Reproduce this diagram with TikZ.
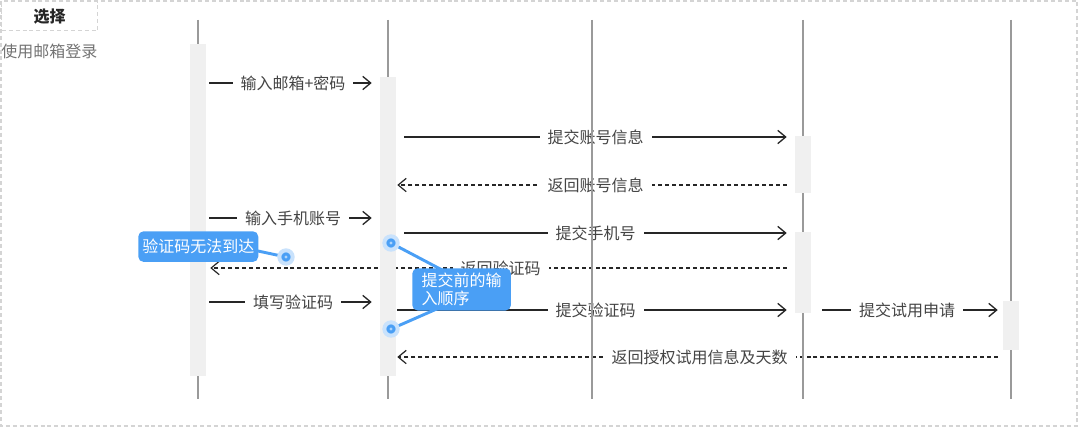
\documentclass[tikz,border=0pt]{standalone}
\usepackage{fontspec}
\newfontfamily\cjk{Noto Sans CJK SC}
\usetikzlibrary{arrows.meta,fit}

\definecolor{lifegray}{HTML}{9A9A9A}
\definecolor{barfill}{HTML}{F0F0F0}
\definecolor{framegray}{HTML}{D4D4D4}
\definecolor{msgtext}{HTML}{444444}
\definecolor{callblue}{HTML}{4A9FF5}

\pgfdeclarelayer{bg}
\pgfdeclarelayer{fg}
\pgfsetlayers{bg,main,fg}

\tikzset{
	lifeline/.style={draw=lifegray, line width=1.1pt},
	actbar/.style={fill=barfill, inner sep=0pt},
	msg/.style={draw=black!85, line width=1pt, -{Straight Barb[length=6pt,width=10pt]}},
	reply/.style={msg, line width=0.9pt, dash pattern=on 3pt off 2.2pt},
	lbl/.style={fill=white, text=msgtext, font=\cjk\fontsize{12}{14}\selectfont, inner xsep=6pt, inner ysep=1pt},
	callout/.style={fill=callblue, text=white, rounded corners=4pt, font=\cjk\fontsize{12}{13.5}\selectfont},
	pin/.style={circle, fill=callblue, draw=callblue!30, line width=3pt, minimum size=10pt, inner sep=0pt,
		path picture={\fill[white!55!callblue] (path picture bounding box.center) circle (1.2pt);}},
	pinline/.style={draw=callblue, line width=2.2pt}
}

\begin{document}
\begin{tikzpicture}[x=0.75pt, y=-0.75pt]
	\useasboundingbox (0,0) rectangle (1080,428);

	% frame
	\draw[framegray, line width=1.1pt, dash pattern=on 3pt off 2.2pt] (1,1) rectangle (1077,426);
	\node[draw=framegray, line width=1.1pt, dash pattern=on 3pt off 2.2pt, anchor=north west,
		minimum width=72pt, minimum height=21.75pt, font=\cjk\bfseries\fontsize{12}{14}\selectfont, text=black!85] (sel) at (1,1) {选择};
	\node[anchor=west, inner sep=0pt, text=black!55, font=\cjk\fontsize{12}{14}\selectfont] (mode) at (1,51) {使用邮箱登录};

	% lifelines
	\foreach \x in {198,388,592,803,1011}
	\draw[lifeline] (\x,20) -- (\x,399);

	% activation bars
	\node[actbar, fit={(190,44) (206,376)}] (b1) {};
	\node[actbar, fit={(380,77) (396,376)}] (b2) {};
	\node[actbar, fit={(795,136) (811,193)}] (b4a) {};
	\node[actbar, fit={(795,232) (811,313)}] (b4b) {};
	\node[actbar, fit={(1003,301) (1019,350)}] (b5) {};

	% messages
	\begin{pgfonlayer}{bg}
		\draw[msg, shorten <=2.25pt, shorten >=6pt] (b1.east |- 0,83) -- (b2.west |- 0,83) node[midway, lbl] {输入邮箱+密码};
		\draw[msg, shorten <=6pt, shorten >=6pt] (b2.east |- 0,137) -- (b4a.west |- 0,137) node[midway, lbl] {提交账号信息};
		\draw[reply, shorten <=6pt, shorten >=0.75pt] (b4a.west |- 0,185) -- (b2.east |- 0,185) node[midway, lbl] {返回账号信息};
		\draw[msg, shorten <=2.25pt, shorten >=6pt] (b1.east |- 0,218) -- (b2.west |- 0,218) node[midway, lbl] {输入手机账号};
		\draw[msg, shorten <=6pt, shorten >=6pt] (b2.east |- 0,233) -- (b4b.west |- 0,233) node[midway, lbl] {提交手机号};
		\draw[reply, shorten <=6pt, shorten >=3pt] (b4b.west |- 0,268) -- (b1.east |- 0,268) node[midway, lbl] {返回验证码};
		\draw[msg, shorten <=2.25pt, shorten >=6pt] (b1.east |- 0,302) -- (b2.west |- 0,302) node[midway, lbl] {填写验证码};
		\draw[msg, shorten <=0.75pt, shorten >=6pt] (b2.east |- 0,310) -- (b4b.west |- 0,310) node[midway, lbl] {提交验证码};
		\draw[msg, shorten <=8.25pt, shorten >=3.75pt] (b4b.east |- 0,310) -- (b5.west |- 0,310) node[midway, lbl] {提交试用申请};
		\draw[reply, shorten <=3.75pt, shorten >=0.75pt] (b5.west |- 0,357) -- (b2.east |- 0,357) node[midway, lbl] {返回授权试用信息及天数};
	\end{pgfonlayer}

	% notes
	\begin{pgfonlayer}{fg}
		\node[pin] (d1) at (286,257) {};
		\coordinate (t1) at (230,245);
		\draw[pinline] (d1) -- (t1);
		\node[callout, anchor=north west, inner xsep=3pt, minimum height=23pt] (c1) at (138,231) {验证码无法到达};

		\node[pin] (d2) at (391,243) {};
		\node[pin] (d3) at (391,329) {};
		\coordinate (t2) at (480,290);
		\draw[pinline] (d2) -- (t2);
		\draw[pinline] (d3) -- (t2);
		\node[callout, anchor=north west, align=left, inner xsep=7pt, inner ysep=3.5pt, minimum width=73.5pt] (c2) at (412,268) {提交前的输\\入顺序};
	\end{pgfonlayer}
\end{tikzpicture}
\end{document}
